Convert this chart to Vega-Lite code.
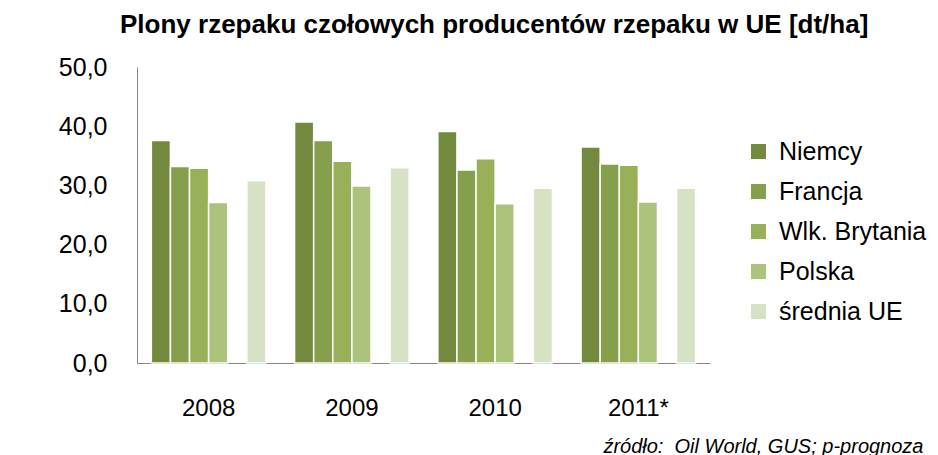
{
  "$schema": "https://vega.github.io/schema/vega-lite/v6.json",
  "width": 573,
  "height": 296,
  "autosize": {"type": "none"},
  "padding": {"left": 137, "top": 67, "right": 228, "bottom": 92},
  "background": "white",
  "config": {
    "font": "Liberation Sans",
    "view": {"stroke": null},
    "axis": {"grid": false, "ticks": false, "domainColor": "#868686", "labelColor": "#000000"}
  },
  "title": {
    "text": "Plony rzepaku czołowych producentów rzepaku w UE [dt/ha]",
    "fontSize": 26,
    "fontWeight": "bold",
    "color": "#000000",
    "anchor": "start",
    "frame": "group",
    "dx": -17,
    "baseline": "alphabetic",
    "offset": -4
  },
  "data": {
    "values": [
      {"rok": "2008", "kraj": "Niemcy", "plon": 37.6},
      {"rok": "2008", "kraj": "Francja", "plon": 33.2},
      {"rok": "2008", "kraj": "Wlk. Brytania", "plon": 32.9},
      {"rok": "2008", "kraj": "Polska", "plon": 27.1},
      {"rok": "2008", "kraj": "średnia UE", "plon": 30.8},
      {"rok": "2009", "kraj": "Niemcy", "plon": 40.7},
      {"rok": "2009", "kraj": "Francja", "plon": 37.6},
      {"rok": "2009", "kraj": "Wlk. Brytania", "plon": 34.1},
      {"rok": "2009", "kraj": "Polska", "plon": 29.9},
      {"rok": "2009", "kraj": "średnia UE", "plon": 33.0},
      {"rok": "2010", "kraj": "Niemcy", "plon": 39.1},
      {"rok": "2010", "kraj": "Francja", "plon": 32.6},
      {"rok": "2010", "kraj": "Wlk. Brytania", "plon": 34.5},
      {"rok": "2010", "kraj": "Polska", "plon": 26.9},
      {"rok": "2010", "kraj": "średnia UE", "plon": 29.5},
      {"rok": "2011*", "kraj": "Niemcy", "plon": 36.5},
      {"rok": "2011*", "kraj": "Francja", "plon": 33.6},
      {"rok": "2011*", "kraj": "Wlk. Brytania", "plon": 33.4},
      {"rok": "2011*", "kraj": "Polska", "plon": 27.2},
      {"rok": "2011*", "kraj": "średnia UE", "plon": 29.5}
    ]
  },
  "mark": {"type": "bar", "stroke": "white", "strokeWidth": 1.5},
  "encoding": {
    "x": {
      "field": "rok",
      "type": "nominal",
      "sort": null,
      "scale": {"paddingInner": 0.2, "paddingOuter": 0.1},
      "axis": {
        "labelAngle": 0,
        "labelFontSize": 24,
        "labelPadding": 33,
        "title": "źródło:\u00a0 Oil World, GUS; p-prognoza",
        "titleFontSize": 20,
        "titleFontStyle": "italic",
        "titleFontWeight": "normal",
        "titleColor": "#000000",
        "titleAlign": "right",
        "titleAnchor": "end",
        "titleBaseline": "alphabetic",
        "titleX": 786,
        "titleY": 89
      }
    },
    "xOffset": {
      "field": "kraj",
      "type": "nominal",
      "scale": {"domain": ["Niemcy", "Francja", "Wlk. Brytania", "Polska", "_", "średnia UE"], "paddingInner": 0, "paddingOuter": 0}
    },
    "y": {
      "field": "plon",
      "type": "quantitative",
      "scale": {"domain": [0, 50], "nice": false},
      "axis": {
        "title": null,
        "values": [0, 10, 20, 30, 40, 50],
        "labelFontSize": 25,
        "labelPadding": 30,
        "labelExpr": "replace(format(datum.value, '.1f'), '.', ',')"
      }
    },
    "color": {
      "field": "kraj",
      "type": "nominal",
      "scale": {
        "domain": ["Niemcy", "Francja", "Wlk. Brytania", "Polska", "średnia UE"],
        "range": ["#738a3e", "#869f4c", "#98b158", "#abc37a", "#d7e2c4"]
      },
      "legend": {
        "title": null,
        "orient": "none",
        "legendX": 609,
        "legendY": 72,
        "symbolType": "square",
        "symbolSize": 225,
        "symbolStrokeWidth": 0,
        "labelFontSize": 25,
        "labelColor": "#000000",
        "labelOffset": 8,
        "rowPadding": 14
      }
    }
  }
}
